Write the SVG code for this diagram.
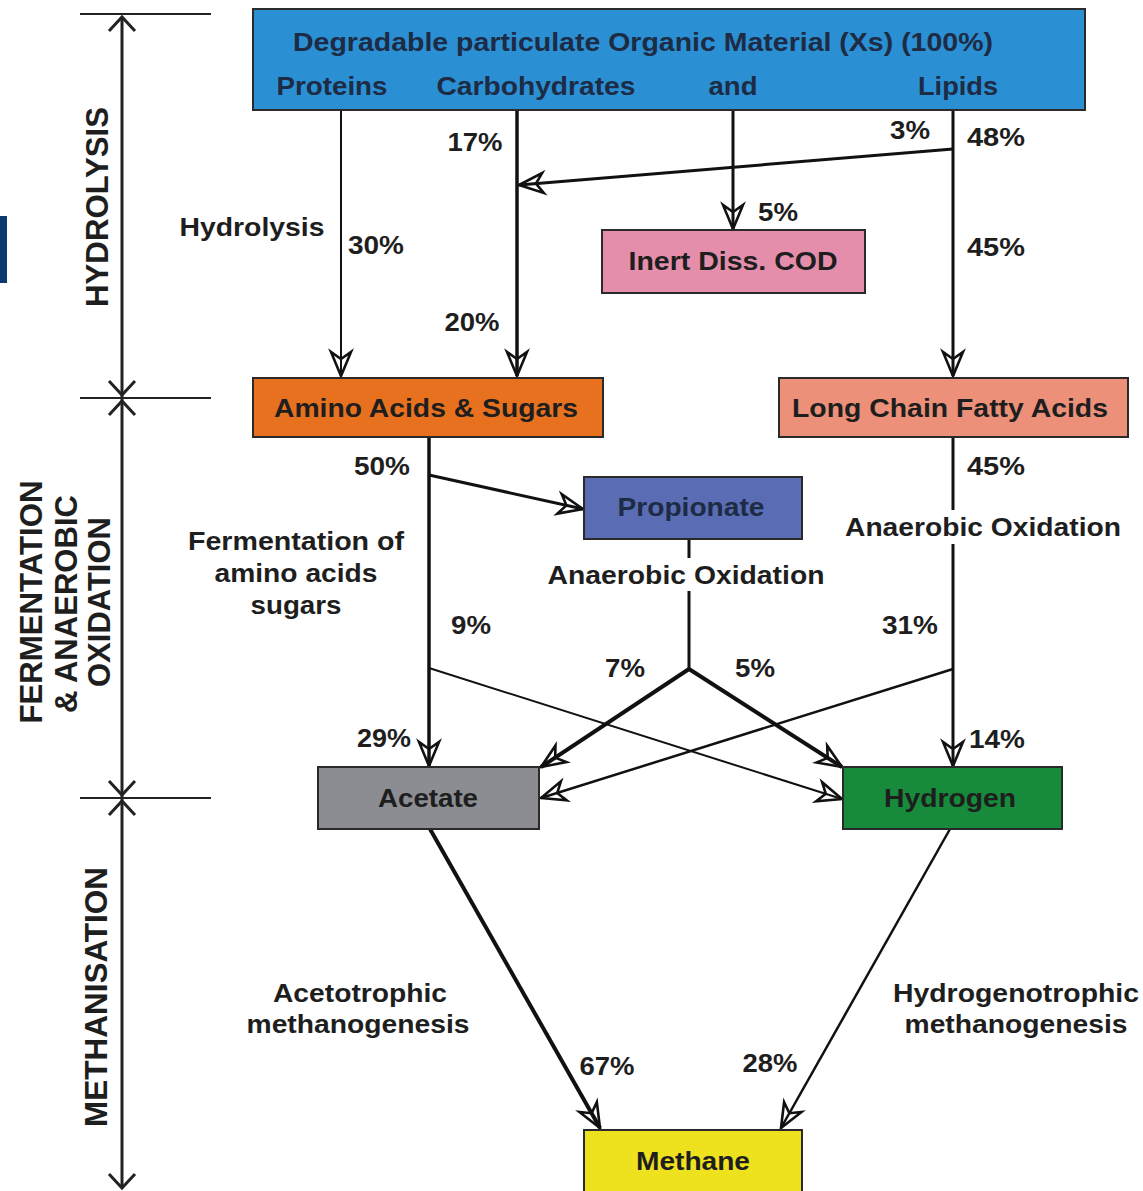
<svg xmlns="http://www.w3.org/2000/svg" width="1143" height="1191" viewBox="0 0 1143 1191">
<defs>
<style>
.t{font-family:"Liberation Sans",Arial,sans-serif;font-weight:bold;font-size:25.5px;fill:#1e1e1e;text-anchor:middle}
.ax{font-family:"Liberation Sans",Arial,sans-serif;font-weight:bold;font-size:31px;fill:#1e1e1e;text-anchor:middle}
.nt{fill:#1d2b45}
.box{stroke:#2a2a2a;stroke-width:2}
.c{stroke:#111;fill:none;stroke-linecap:butt}
.axl{stroke:#222;stroke-width:3;fill:none}
.tick{stroke:#222;stroke-width:2;fill:none}
</style>
<marker id="ah" viewBox="-28 -13 30 26" refX="0" refY="0" markerWidth="30" markerHeight="26" markerUnits="userSpaceOnUse" orient="auto">
<path d="M0,0 L-24,-10 L-17,0 L-24,10 Z" stroke="#111" stroke-width="2.6" fill="none" stroke-linejoin="miter"/>
</marker>
</defs>
<rect width="1143" height="1191" fill="#ffffff"/>
<rect x="0" y="216" width="7" height="67" fill="#0d3a6e"/>

<g id="axis">
<line class="tick" x1="80" y1="14" x2="211" y2="14"/>
<line class="tick" x1="80" y1="398" x2="211" y2="398"/>
<line class="tick" x1="80" y1="798" x2="211" y2="798"/>
<line class="axl" x1="122" y1="17" x2="122" y2="1188"/>
<polyline class="axl" points="109,31 122,17 135,31"/>
<polyline class="axl" points="109,381 122,395 135,381"/>
<polyline class="axl" points="109,415 122,401 135,415"/>
<polyline class="axl" points="109,781 122,795 135,781"/>
<polyline class="axl" points="109,815 122,801 135,815"/>
<polyline class="axl" points="109,1174 122,1188 135,1174"/>
<text class="ax" transform="translate(108,207) rotate(-90)" textLength="200" lengthAdjust="spacingAndGlyphs">HYDROLYSIS</text>
<text class="ax" transform="translate(42,602) rotate(-90)" textLength="243" lengthAdjust="spacingAndGlyphs">FERMENTATION</text>
<text class="ax" transform="translate(77,604) rotate(-90)" textLength="218" lengthAdjust="spacingAndGlyphs">&amp; ANAEROBIC</text>
<text class="ax" transform="translate(110,602) rotate(-90)" textLength="170" lengthAdjust="spacingAndGlyphs">OXIDATION</text>
<text class="ax" transform="translate(107,997) rotate(-90)" textLength="260" lengthAdjust="spacingAndGlyphs">METHANISATION</text>
</g>

<g id="connectors">
<line class="c" stroke-width="2" x1="341" y1="110" x2="341" y2="376" marker-end="url(#ah)"/>
<line class="c" stroke-width="3.5" x1="517" y1="110" x2="517" y2="376" marker-end="url(#ah)"/>
<line class="c" stroke-width="3" x1="733" y1="110" x2="733" y2="229" marker-end="url(#ah)"/>
<line class="c" stroke-width="3" x1="953" y1="110" x2="953" y2="376" marker-end="url(#ah)"/>
<line class="c" stroke-width="3" x1="953" y1="149" x2="519" y2="185" marker-end="url(#ah)"/>
<line class="c" stroke-width="3.5" x1="429" y1="437" x2="429" y2="766" marker-end="url(#ah)"/>
<line class="c" stroke-width="3" x1="429" y1="475" x2="583" y2="509" marker-end="url(#ah)"/>
<line class="c" stroke-width="2" x1="429" y1="668" x2="842" y2="799" marker-end="url(#ah)"/>
<line class="c" stroke-width="3" x1="689" y1="539" x2="689" y2="558"/>
<line class="c" stroke-width="3" x1="689" y1="591" x2="689" y2="669"/>
<line class="c" stroke-width="4" x1="689" y1="669" x2="541" y2="767" marker-end="url(#ah)"/>
<line class="c" stroke-width="4" x1="689" y1="669" x2="842" y2="767" marker-end="url(#ah)"/>
<line class="c" stroke-width="3" x1="953" y1="437" x2="953" y2="510"/>
<line class="c" stroke-width="3" x1="953" y1="544" x2="953" y2="766" marker-end="url(#ah)"/>
<line class="c" stroke-width="2.5" x1="953" y1="669" x2="541" y2="798" marker-end="url(#ah)"/>
<line class="c" stroke-width="4" x1="430" y1="829" x2="600" y2="1128" marker-end="url(#ah)"/>
<line class="c" stroke-width="2.5" x1="950" y1="829" x2="781" y2="1128" marker-end="url(#ah)"/>
</g>

<g id="n-top">
<rect class="box" x="253" y="9" width="832" height="101" fill="#2b8fd3" stroke="#16324f"/>
<text class="t nt" x="643" y="51" textLength="700" lengthAdjust="spacingAndGlyphs">Degradable particulate Organic Material (Xs) (100%)</text>
<text class="t nt" x="332" y="95" textLength="111" lengthAdjust="spacingAndGlyphs">Proteins</text>
<text class="t nt" x="536" y="95" textLength="199" lengthAdjust="spacingAndGlyphs">Carbohydrates</text>
<text class="t nt" x="733" y="95" textLength="49" lengthAdjust="spacingAndGlyphs">and</text>
<text class="t nt" x="958" y="95" textLength="80" lengthAdjust="spacingAndGlyphs">Lipids</text>
</g>

<g id="n-inert">
<rect class="box" x="602" y="230" width="263" height="63" fill="#e48eab"/>
<text class="t" x="733" y="270" textLength="209" lengthAdjust="spacingAndGlyphs">Inert Diss. COD</text>
</g>

<g id="n-amino">
<rect class="box" x="253" y="378" width="350" height="59" fill="#e8711f"/>
<text class="t" x="426" y="417" textLength="304" lengthAdjust="spacingAndGlyphs">Amino Acids &amp; Sugars</text>
</g>

<g id="n-lcfa">
<rect class="box" x="779" y="378" width="349" height="59" fill="#ec9079"/>
<text class="t" x="950" y="417" textLength="316" lengthAdjust="spacingAndGlyphs">Long Chain Fatty Acids</text>
</g>

<g id="n-propionate">
<rect class="box" x="584" y="477" width="218" height="62" fill="#5a6db4"/>
<text class="t nt" x="691" y="516" textLength="147" lengthAdjust="spacingAndGlyphs">Propionate</text>
</g>

<g id="n-acetate">
<rect class="box" x="318" y="767" width="221" height="62" fill="#8b8d92"/>
<text class="t" x="428" y="807" textLength="100" lengthAdjust="spacingAndGlyphs">Acetate</text>
</g>

<g id="n-hydrogen">
<rect class="box" x="843" y="767" width="219" height="62" fill="#178a3c"/>
<text class="t" x="950" y="807" textLength="132" lengthAdjust="spacingAndGlyphs">Hydrogen</text>
</g>

<g id="n-methane">
<rect class="box" x="584" y="1130" width="218" height="64" fill="#eee11e"/>
<text class="t" x="693" y="1170" textLength="114" lengthAdjust="spacingAndGlyphs">Methane</text>
</g>

<g id="labels">
<text class="t" x="475" y="151" textLength="55" lengthAdjust="spacingAndGlyphs">17%</text>
<text class="t" x="910" y="139" textLength="40" lengthAdjust="spacingAndGlyphs">3%</text>
<text class="t" x="996" y="146" textLength="58" lengthAdjust="spacingAndGlyphs">48%</text>
<text class="t" x="778" y="221" textLength="40" lengthAdjust="spacingAndGlyphs">5%</text>
<text class="t" x="252" y="236" textLength="145" lengthAdjust="spacingAndGlyphs">Hydrolysis</text>
<text class="t" x="376" y="254" textLength="56" lengthAdjust="spacingAndGlyphs">30%</text>
<text class="t" x="996" y="256" textLength="58" lengthAdjust="spacingAndGlyphs">45%</text>
<text class="t" x="472" y="331" textLength="55" lengthAdjust="spacingAndGlyphs">20%</text>
<text class="t" x="382" y="475" textLength="56" lengthAdjust="spacingAndGlyphs">50%</text>
<text class="t" x="996" y="475" textLength="58" lengthAdjust="spacingAndGlyphs">45%</text>
<text class="t" x="983" y="536" textLength="276" lengthAdjust="spacingAndGlyphs">Anaerobic Oxidation</text>
<text class="t" x="296" y="550" textLength="216" lengthAdjust="spacingAndGlyphs">Fermentation of</text>
<text class="t" x="296" y="582" textLength="163" lengthAdjust="spacingAndGlyphs">amino acids</text>
<text class="t" x="296" y="614" textLength="91" lengthAdjust="spacingAndGlyphs">sugars</text>
<text class="t" x="686" y="584" textLength="277" lengthAdjust="spacingAndGlyphs">Anaerobic Oxidation</text>
<text class="t" x="471" y="634" textLength="40" lengthAdjust="spacingAndGlyphs">9%</text>
<text class="t" x="910" y="634" textLength="56" lengthAdjust="spacingAndGlyphs">31%</text>
<text class="t" x="625" y="677" textLength="40" lengthAdjust="spacingAndGlyphs">7%</text>
<text class="t" x="755" y="677" textLength="40" lengthAdjust="spacingAndGlyphs">5%</text>
<text class="t" x="384" y="747" textLength="54" lengthAdjust="spacingAndGlyphs">29%</text>
<text class="t" x="997" y="748" textLength="56" lengthAdjust="spacingAndGlyphs">14%</text>
<text class="t" x="360" y="1002" textLength="174" lengthAdjust="spacingAndGlyphs">Acetotrophic</text>
<text class="t" x="358" y="1033" textLength="223" lengthAdjust="spacingAndGlyphs">methanogenesis</text>
<text class="t" x="1016" y="1002" textLength="246" lengthAdjust="spacingAndGlyphs">Hydrogenotrophic</text>
<text class="t" x="1016" y="1033" textLength="223" lengthAdjust="spacingAndGlyphs">methanogenesis</text>
<text class="t" x="607" y="1075" textLength="55" lengthAdjust="spacingAndGlyphs">67%</text>
<text class="t" x="770" y="1072" textLength="55" lengthAdjust="spacingAndGlyphs">28%</text>
</g>
</svg>
